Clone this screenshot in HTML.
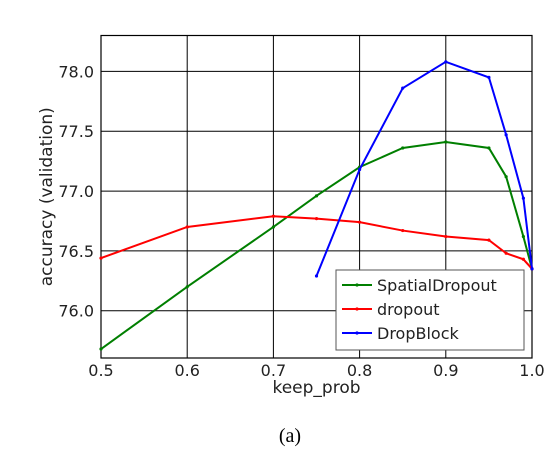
<!DOCTYPE html>
<html><head><meta charset="utf-8"><style>
body{margin:0;background:#fff;}
svg{display:block;font-family:"DejaVu Sans","Liberation Sans",sans-serif;}
</style></head><body>
<svg id="chart" width="559" height="459"></svg>
<script>
const xTicks=[0.5,0.6,0.7,0.8,0.9,1.0];
const xTickLabels=["0.5","0.6","0.7","0.8","0.9","1.0"];
const yTicks=[76.0,76.5,77.0,77.5,78.0];
const yTickLabels=["76.0","76.5","77.0","77.5","78.0"];
const spatialX=[0.5,0.6,0.7,0.75,0.8,0.85,0.9,0.95,0.97,0.99,1.0];
const spatialY=[75.68,76.2,76.7,76.96,77.2,77.36,77.41,77.36,77.12,76.62,76.35];
const dropoutX=[0.5,0.6,0.7,0.75,0.8,0.85,0.9,0.95,0.97,0.99,1.0];
const dropoutY=[76.44,76.70,76.79,76.77,76.74,76.67,76.62,76.59,76.48,76.43,76.35];
const blockX=[0.75,0.8,0.85,0.9,0.95,0.97,0.99,1.0];
const blockY=[76.29,77.18,77.86,78.08,77.95,77.47,76.94,76.35];
const L=101,R=532,T=35.5,B=358,xMin=0.5,xMax=1.0,yMin=75.605,yMax=78.30;
const sx=v=>L+(v-xMin)/(xMax-xMin)*(R-L);
const sy=v=>B-(v-yMin)/(yMax-yMin)*(B-T);
const svg=document.getElementById('chart');
const NS="http://www.w3.org/2000/svg";
function mk(tag,attrs,parent){const e=document.createElementNS(NS,tag);for(const k in attrs)e.setAttribute(k,attrs[k]);(parent||svg).appendChild(e);return e;}
xTicks.forEach((v,i)=>{
  const g=mk('line',{x1:sx(v),x2:sx(v),y1:T,y2:B,stroke:'#000','stroke-width':1});
  
  
  const t=mk('text',{x:sx(v),y:B+18,'text-anchor':'middle','font-size':16,fill:'#222'});
  t.textContent=xTickLabels[i];
  
  
});
yTicks.forEach((v,i)=>{
  const g=mk('line',{x1:L,x2:R,y1:sy(v),y2:sy(v),stroke:'#000','stroke-width':1});
  
  
  const t=mk('text',{x:L-7,y:sy(v)+6,'text-anchor':'end','font-size':16,fill:'#222'});
  t.textContent=yTickLabels[i];
  
  
});
const frame=mk('rect',{x:L,y:T,width:R-L,height:B-T,fill:'none',stroke:'#000','stroke-width':1.2});


function series(xs,ys,color,name){
  const p=mk('polyline',{points:xs.map((x,i)=>sx(x)+','+sy(ys[i])).join(' '),fill:'none',stroke:color,'stroke-width':2});
  
  
  xs.forEach((x,i)=>{
    const c=mk('circle',{cx:sx(x),cy:sy(ys[i]),r:1.6,fill:color});
    
    
  });
}
series(spatialX,spatialY,'#007f00','spatialdropout');
series(dropoutX,dropoutY,'#ff0000','dropout');
series(blockX,blockY,'#0000ff','dropblock');
const lg=mk('g',{});


mk('rect',{x:336,y:270,width:188,height:80,fill:'#fff',stroke:'#555','stroke-width':1},lg);
const entries=[['SpatialDropout','#007f00'],['dropout','#ff0000'],['DropBlock','#0000ff']];
entries.forEach((e,i)=>{
  const y=285+i*24;
  const ln=mk('line',{x1:342,x2:372,y1:y,y2:y,stroke:e[1],'stroke-width':2},lg);
  
  
  mk('circle',{cx:357,cy:y,r:1.6,fill:e[1]},lg);
  const t=mk('text',{x:377,y:y+6,'font-size':16,fill:'#222'},lg);
  t.textContent=e[0];
  
  
});
const xl=mk('text',{x:(L+R)/2,y:393,'text-anchor':'middle','font-size':17,fill:'#222'});
xl.textContent='keep_prob';


const yl=mk('text',{x:0,y:0,'text-anchor':'middle','font-size':17,fill:'#222',transform:'translate(52,'+((T+B)/2)+') rotate(-90)'});
yl.textContent='accuracy (validation)';


const cap=mk('text',{x:290,y:442,'text-anchor':'middle','font-size':20,fill:'#000','font-family':'"Liberation Serif",serif'});
cap.textContent='(a)';


</script>
</body></html>
